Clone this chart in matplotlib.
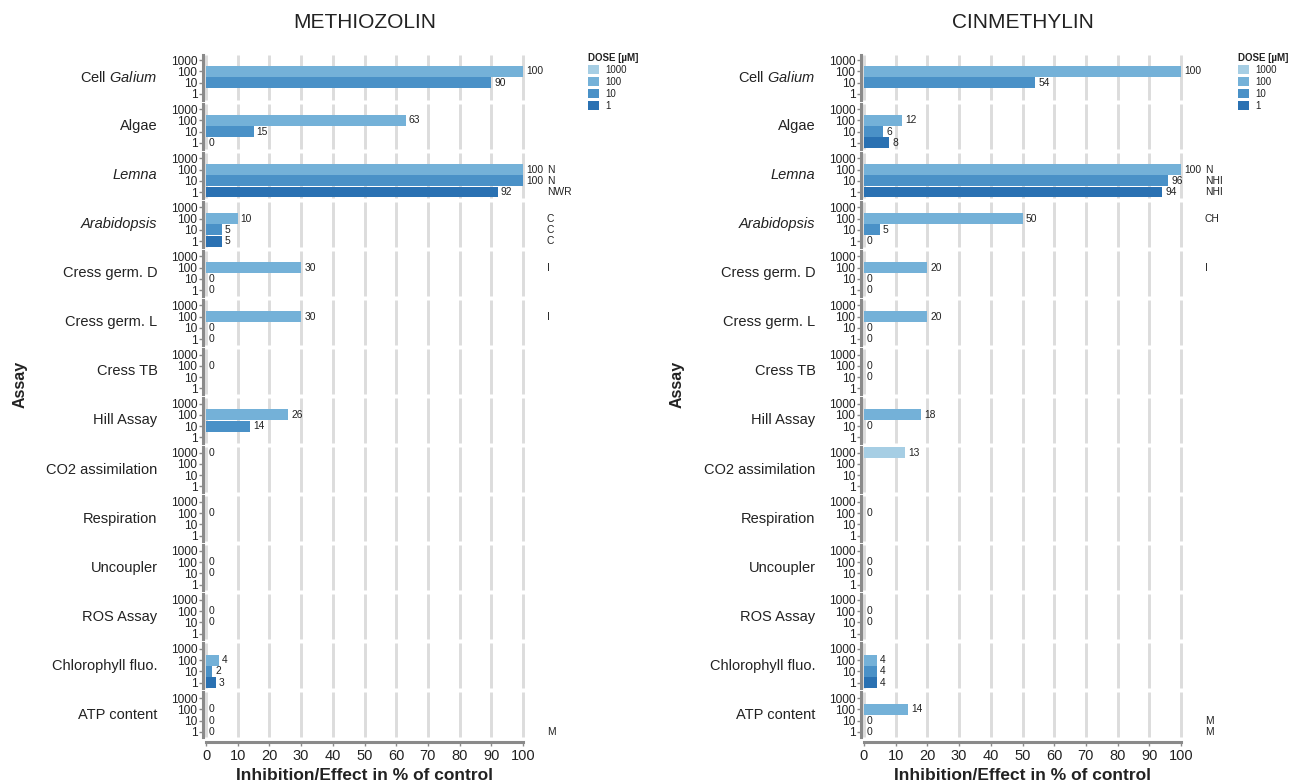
import matplotlib
matplotlib.use("Agg")
import matplotlib.pyplot as plt
from matplotlib.patches import Patch

plt.rcParams['font.family'] = ['Liberation Sans', 'DejaVu Sans']
plt.rcParams['mathtext.fontset'] = 'custom'
plt.rcParams['mathtext.rm'] = 'Liberation Sans'
plt.rcParams['mathtext.it'] = 'Liberation Sans:italic'
plt.rcParams['text.color'] = '#222222'

# ---------------- data ----------------
assays = ["Cell $\\it{Galium}$", "Algae", "Lemna", "Arabidopsis", "Cress germ. D",
          "Cress germ. L", "Cress TB", "Hill Assay", "CO2 assimilation", "Respiration",
          "Uncoupler", "ROS Assay", "Chlorophyll fluo.", "ATP content"]
italic_assays = ["Lemna", "Arabidopsis"]
doses = ["1000", "100", "10", "1"]
dose_colors = ["#a6cee4", "#74b1d8", "#4a91c7", "#2a71b2"]

meth_1000 = [None, None, None, None, None, None, None, None, 0, None, None, None, None, None]
meth_100 = [100, 63, 100, 10, 30, 30, 0, 26, None, 0, 0, 0, 4, 0]
meth_10 = [90, 15, 100, 5, 0, 0, None, 14, None, None, 0, 0, 2, 0]
meth_1 = [None, 0, 92, 5, 0, 0, None, None, None, None, None, None, 3, 0]
meth_note_100 = ["", "", "N", "C", "I", "I", "", "", "", "", "", "", "", ""]
meth_note_10 = ["", "", "N", "C", "", "", "", "", "", "", "", "", "", ""]
meth_note_1 = ["", "", "NWR", "C", "", "", "", "", "", "", "", "", "", "M"]

cin_1000 = [None, None, None, None, None, None, None, None, 13, None, None, None, None, None]
cin_100 = [100, 12, 100, 50, 20, 20, 0, 18, None, 0, 0, 0, 4, 14]
cin_10 = [54, 6, 96, 5, 0, 0, 0, 0, None, None, 0, 0, 4, 0]
cin_1 = [None, 8, 94, 0, 0, 0, None, None, None, None, None, None, 4, 0]
cin_note_100 = ["", "", "N", "CH", "I", "", "", "", "", "", "", "", "", ""]
cin_note_10 = ["", "", "NHI", "", "", "", "", "", "", "", "", "", "", "M"]
cin_note_1 = ["", "", "NHI", "", "", "", "", "", "", "", "", "", "", "M"]

x_ticks = list(range(0, 101, 10))
note_x = 107.5

# ---------------- layout ----------------
W, H = 1290, 784
fig = plt.figure(figsize=(W / 100, H / 100), dpi=100)
fig.patch.set_facecolor("white")


def rect(x0, ytop, w, h):
    return [x0 / W, 1 - (ytop + h) / H, w / W, h / H]


panels = [
    ("METHIOZOLIN", 206, [meth_1000, meth_100, meth_10, meth_1],
     [[""] * 14, meth_note_100, meth_note_10, meth_note_1], 588, 20),
    ("CINMETHYLIN", 864, [cin_1000, cin_100, cin_10, cin_1],
     [[""] * 14, cin_note_100, cin_note_10, cin_note_1], 1238, 677),
]

plot_w = 317
facet_h = 45
row_step = 49.07
first_center = 77
spine_col = "#8a8a8a"

for title, x0, series, notes, leg_x, ylab_x in panels:
    n = len(assays)
    for i, assay in enumerate(assays):
        yc = first_center + i * row_step
        ax = fig.add_axes(rect(x0, yc - facet_h / 2, plot_w, facet_h))
        ax.set_xlim(0, 100)
        ax.set_ylim(3.5, -0.5)
        ax.set_xticks(x_ticks)
        ax.vlines(x_ticks, -0.5, 3.5, colors="#dcdcdc", lw=2.1, zorder=0, clip_on=False)
        for s in ["top", "right"]:
            ax.spines[s].set_visible(False)
        ax.spines["left"].set_position(("outward", 2.2))
        ax.spines["left"].set_color(spine_col)
        ax.spines["left"].set_linewidth(2.2)
        ax.set_yticks(range(len(doses)))
        ax.set_yticklabels(doses, fontsize=8.6, color="#222222")
        ax.tick_params(axis="y", length=3, width=1, color=spine_col, pad=1)
        for j in range(len(doses)):
            v = series[j][i]
            if v is not None:
                ax.barh(j, v, height=0.97, color=dose_colors[j], zorder=2)
                ax.annotate(str(v), xy=(v, j), xytext=(2.2, 0), textcoords="offset points",
                            va="center", ha="left", fontsize=7.4, annotation_clip=False)
            nt = notes[j][i]
            if nt:
                ax.annotate(nt, xy=(note_x, j), va="center", ha="left", fontsize=7.4,
                            annotation_clip=False)
        style = "italic" if assay in italic_assays else "normal"
        ax.annotate(assay, xy=(0, 0.5), xycoords="axes fraction", xytext=(-35, 0),
                    textcoords="offset points", ha="right", va="center",
                    fontsize=10.5, fontstyle=style)
        if i == n - 1:
            ax.spines["bottom"].set_position(("outward", 3))
            ax.spines["bottom"].set_color(spine_col)
            ax.spines["bottom"].set_linewidth(2.2)
            ax.tick_params(axis="x", length=3, width=1, color=spine_col, labelsize=10.5,
                           labelcolor="#222222", pad=2)
        else:
            ax.spines["bottom"].set_visible(False)
            ax.tick_params(axis="x", bottom=False, labelbottom=False)

    fig.text((x0 + plot_w / 2) / W, 1 - 23 / H, title, ha="center", va="center", fontsize=15)
    fig.text((x0 + plot_w / 2) / W, 1 - 775 / H, "Inhibition/Effect in % of control",
             ha="center", va="center", fontsize=12.5, fontweight="bold")
    fig.text(ylab_x / W, 1 - 384 / H, "Assay", rotation=90, ha="center", va="center",
             fontsize=11.5, fontweight="bold")

    handles = [Patch(facecolor=c, edgecolor="none", label=d) for c, d in zip(dose_colors, doses)]
    leg = fig.legend(handles=handles, loc="upper left",
                     bbox_to_anchor=(leg_x / W, 1 - 53 / H), frameon=False,
                     title="DOSE [µM]", fontsize=7, handlelength=1.1, handleheight=1.1,
                     labelspacing=0.2, handletextpad=0.7, borderpad=0, borderaxespad=0,
                     alignment="left",
                     title_fontproperties={"weight": "bold", "size": 7})

fig.savefig("out.png", dpi=100, facecolor="white")
